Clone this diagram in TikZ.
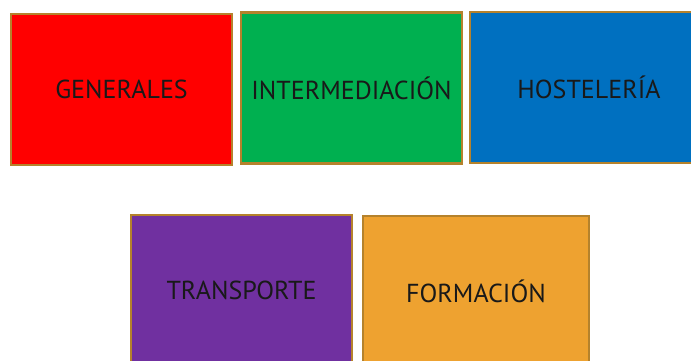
\documentclass[tikz,border=0pt]{standalone}
\usepackage{fontspec}
\setmainfont{PT Sans}
\definecolor{boxred}{HTML}{FF0000}
\definecolor{boxgreen}{HTML}{00B050}
\definecolor{boxblue}{HTML}{0070C0}
\definecolor{boxpurple}{HTML}{7030A0}
\definecolor{boxorange}{HTML}{EEA230}
\definecolor{boxrim}{HTML}{B5822C}
\tikzset{
  sector/.style={
    draw=boxrim,
    line width=2.4pt,
    fill=#1,
    minimum width=221pt,
    minimum height=151pt,
    inner sep=0pt,
    font=\fontsize{26}{30}\selectfont,
    text=black!90
  }
}

\begin{document}
\begin{tikzpicture}[x=1pt,y=-1pt]
%canvas 691 x 360, y runs downward
\useasboundingbox (0,0) rectangle (691,360);
\clip (0,0) rectangle (691,360);
\node [sector=boxred] (generales) at (121.5,89.5) {GENERALES};
\node [sector=boxgreen] (intermediacion) at (351.5,88) {INTERMEDIACIÓN};
\node [sector=boxblue, minimum width=238pt] (hosteleria) at (589,87.5) {HOSTELERÍA};
\node [sector=boxpurple] (transporte) at (241.5,290.5) {TRANSPORTE};
\node [sector=boxorange, minimum width=226pt] (formacion) at (476,291.5) {FORMACIÓN};
\end{tikzpicture}
\end{document}
